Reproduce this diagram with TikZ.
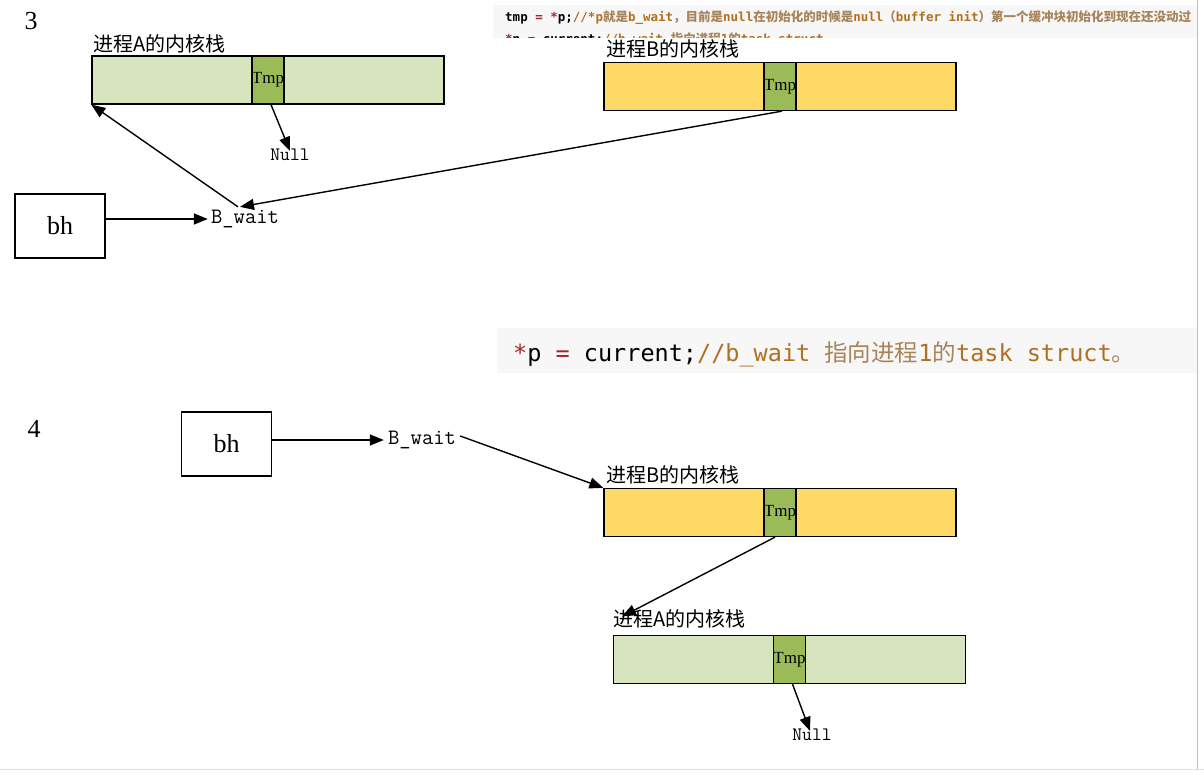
\documentclass[tikz,border=0pt]{standalone}
\usepackage{fontspec}
\usetikzlibrary{arrows.meta}
\setmainfont{Liberation Serif}
\newfontfamily\cjk{Noto Sans CJK SC}
\newfontfamily\codefont{DejaVu Sans Mono}
\definecolor{stackA}{HTML}{D7E4BD}
\definecolor{tmpc}{HTML}{9BBB59}
\definecolor{stackB}{HTML}{FFD966}
\definecolor{codebg}{HTML}{F7F7F7}
\definecolor{kw}{HTML}{A0282D}
\definecolor{cm}{HTML}{B0701F}
\definecolor{cmz}{HTML}{A8845A}
\newcommand{\cz}[1]{{\cjk\color{cmz}#1}}
\begin{document}
\begin{tikzpicture}[x=1pt,y=-1pt,
  stackbox/.style={draw, line width=1.3pt, minimum width=352pt, minimum height=48pt, inner sep=0pt},
  tmpcell/.style={draw, line width=1.3pt, fill=tmpc, minimum width=32pt, minimum height=48pt, inner sep=0pt, font=\fontsize{17}{17}\selectfont},
  bhbox/.style={draw, line width=1.2pt, minimum width=90pt, minimum height=64pt, inner sep=0pt, font=\fontsize{26}{26}\selectfont},
  ptr/.style={line width=1.4pt, -{Triangle[length=14pt,width=11pt]}},
  stacklabel/.style={anchor=west, inner sep=0pt, font={\cjk\fontsize{20}{20}\selectfont}},
  ttlabel/.style={inner sep=0pt, font={\ttfamily\fontsize{22}{22}\selectfont}},
  nulllabel/.style={inner sep=0pt, font={\ttfamily\fontsize{19}{19}\selectfont}},
  numlabel/.style={inner sep=0pt, font=\fontsize{26}{26}\selectfont},
  codeline/.style={anchor=west, inner sep=0pt, font={\codefont\bfseries\fontsize{12.5}{12.5}\selectfont}},
  codeline2/.style={anchor=west, inner sep=0pt, font={\codefont\fontsize{23.5}{23.5}\selectfont}}
]
\useasboundingbox (0,0) rectangle (1204,775);
\fill[white] (0,0) rectangle (1204,775);
% frame lines
\draw[color=black!25, line width=1pt] (1197,0) -- (1197,769);
\draw[color=black!12, line width=1pt] (0,769.5) -- (1204,769.5);

% ---------------- section 3 ----------------
\node[numlabel] (n3) at (31,21) {3};

% code snippet (top)
\begin{scope}
  \clip (493,5) rectangle (1197,38);
  \fill[codebg] (493,5) rectangle (1197,38);
  \node[codeline] (code1) at (505,18) {tmp \textcolor{kw}{=} \textcolor{kw}{*}p;\textcolor{cm}{//*p}\cz{就是}\textcolor{cm}{b\_wait}\cz{，目前是}\textcolor{cm}{null}\cz{在初始化的时候是}\textcolor{cm}{null}\cz{（}\textcolor{cm}{buffer init}\cz{）第一个缓冲块初始化到现在还没动过}};
  \node[codeline] (code1b) at (505,40) {\textcolor{kw}{*}p \textcolor{kw}{=} current;\textcolor{cm}{//b\_wait} \cz{指向进程}\textcolor{cm}{1}\cz{的}\textcolor{cm}{task struct}};
\end{scope}

% stack A
\node[stacklabel] (lblA3) at (93,44) {进程A的内核栈};
\node[stackbox, fill=stackA] (stA3) at (268,80) {};
\node[tmpcell] (tmpA3) at (stA3.center) {Tmp};
\node[nulllabel] (null3) at (290,155) {Null};

% stack B
\node[stacklabel] (lblB3) at (606,49) {进程B的内核栈};
\node[stackbox, fill=stackB] (stB3) at (780,86.5) {};
\node[tmpcell] (tmpB3) at (stB3.center) {Tmp};

% bh and B_wait
\node[bhbox] (bh3) at (60,226) {bh};
\node[ttlabel] (bw3) at (245,219) {B\_wait};

\draw[ptr] (bh3.east |- bw3.west) -- ([xshift=-3pt]bw3.west);
\draw[ptr] ([xshift=-7pt,yshift=3pt]bw3.north) -- (stA3.south west);
\draw[ptr] ([xshift=2pt]tmpB3.south) -- ([xshift=-5pt,yshift=3pt]bw3.north);
\draw[ptr] ([xshift=3pt]tmpA3.south) -- ([yshift=-2pt]null3.north);

% ---------------- section 4 ----------------
\node[numlabel] (n4) at (34,429) {4};

\fill[codebg] (497,328) rectangle (1197,373);
\node[codeline2] (code2) at (513,354) {\textcolor{kw}{*}p \textcolor{kw}{=} current;\textcolor{cm}{//b\_wait} \cz{指向进程}\textcolor{cm}{1}\cz{的}\textcolor{cm}{task struct}\cz{。}};

\node[bhbox] (bh4) at (226.5,444) {bh};
\node[ttlabel] (bw4) at (422,440) {B\_wait};

\node[stacklabel] (lblB4) at (606,475) {进程B的内核栈};
\node[stackbox, fill=stackB] (stB4) at (780,512.5) {};
\node[tmpcell] (tmpB4) at (stB4.center) {Tmp};

\node[stacklabel] (lblA4) at (613,619) {进程A的内核栈};
\node[stackbox, fill=stackA] (stA4) at (789.5,659.5) {};
\node[tmpcell] (tmpA4) at (stA4.center) {Tmp};
\node[nulllabel] (null4) at (812,735) {Null};

\draw[ptr] (bh4.east |- bw4.west) -- ([xshift=-4pt]bw4.west);
\draw[ptr] ([xshift=4pt,yshift=4pt]bw4.east) -- (stB4.north west);
\draw[ptr] ([xshift=-5pt]tmpB4.south) -- ([xshift=9pt,yshift=-7pt]lblA4.north west);
\draw[ptr] ([xshift=3pt]tmpA4.south) -- ([xshift=-2pt,yshift=-2pt]null4.north);
\end{tikzpicture}
\end{document}
